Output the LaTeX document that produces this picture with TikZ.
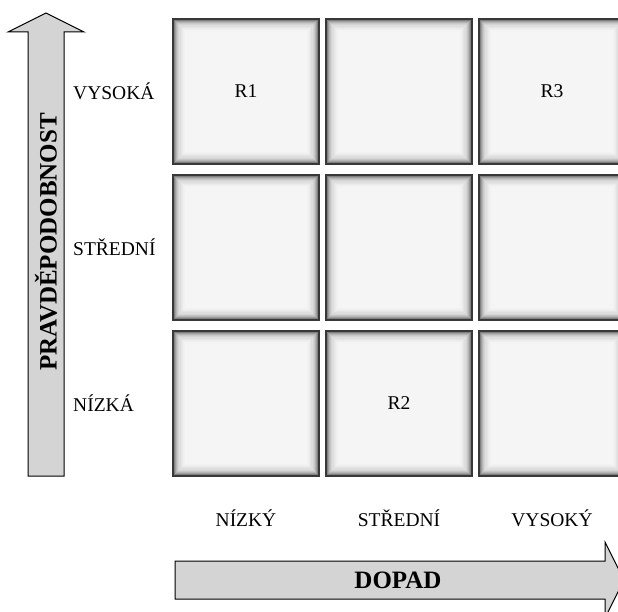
\documentclass[tikz,border=0pt]{standalone}
\usepackage{fontspec}
\setmainfont{Liberation Serif}
\begin{document}
\begin{tikzpicture}[x=1pt,y=1pt,
  label text/.style={font=\fontsize{19.5}{21}\selectfont, inner sep=0pt},
  axis text/.style={font=\fontsize{25}{27}\selectfont\bfseries, inner sep=0pt},
  axis arrow/.style={fill=black!17, draw=black, line width=1pt, line join=miter},
  riskbox/.style={draw=black!78, line width=1.5pt, fill=black!4,
    minimum width=146pt, minimum height=145pt, inner sep=0pt,
    font=\fontsize{19.5}{21}\selectfont,
    path picture={
      \foreach \d/\c in {1/50,2.2/38,3.4/29,4.6/22,5.8/17,7/13,8.2/10,9.4/8,10.6/6,11.8/5} {
        \draw[black!\c, line width=1.3pt]
          ([shift={(\d pt,\d pt)}]path picture bounding box.south west) rectangle
          ([shift={(-\d pt,-\d pt)}]path picture bounding box.north east);
      }
    }},
]
\useasboundingbox (0,0) rectangle (618,611);
\clip (0,0) rectangle (618,611);

% risk matrix cells: columns (impact) x rows (probability)
\node[riskbox] (c11) at (246,519.5) {R1};
\node[riskbox] (c12) at (399,519.5) {};
\node[riskbox] (c13) at (552,519.5) {R3};
\node[riskbox] (c21) at (246,363.5) {};
\node[riskbox] (c22) at (399,363.5) {};
\node[riskbox] (c23) at (552,363.5) {};
\node[riskbox] (c31) at (246,207.5) {};
\node[riskbox] (c32) at (399,207.5) {R2};
\node[riskbox] (c33) at (552,207.5) {};

% probability axis
\draw[axis arrow] (28,135) -- (28,579) -- (8,579) -- (46,598) -- (84,579) -- (64,579) -- (64,135) -- cycle;
\node[axis text, rotate=90] (pravd) at (46,369) {PRAVDĚPODOBNOST};

% impact axis
\draw[axis arrow] (175,12) -- (175,50) -- (605,50) -- (605,69) -- (624,31) -- (605,-7) -- (605,12) -- cycle;
\node[axis text] (dopad) at (398,31) {DOPAD};

% row labels
\node[label text, anchor=west] (lvys) at (73,519.5) {VYSOKÁ};
\node[label text, anchor=west] (lstr) at (73,363.5) {STŘEDNÍ};
\node[label text, anchor=west] (lniz) at (73,207.5) {NÍZKÁ};

% column labels
\node[label text] (cniz) at (246,93) {NÍZKÝ};
\node[label text] (cstr) at (399,93) {STŘEDNÍ};
\node[label text] (cvys) at (552,93) {VYSOKÝ};
\end{tikzpicture}
\end{document}
